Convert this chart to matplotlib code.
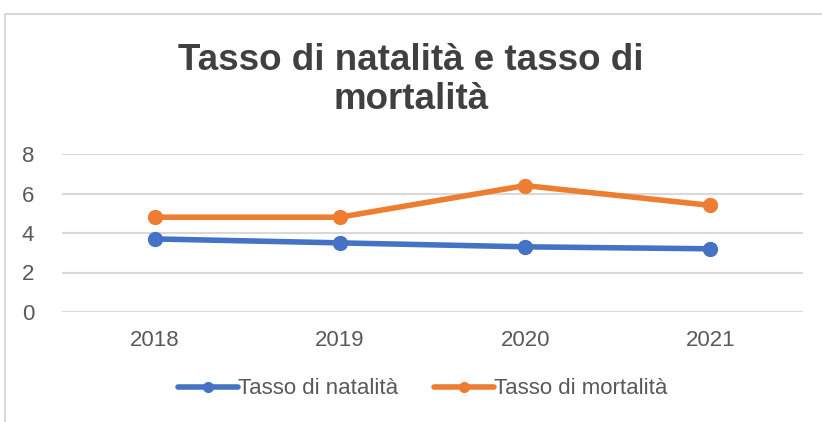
import matplotlib.pyplot as plt
from matplotlib.patches import Rectangle

plt.rcParams['font.family'] = ['Liberation Sans', 'DejaVu Sans']

anni = ['2018', '2019', '2020', '2021']
natalita = [3.7, 3.5, 3.3, 3.2]
mortalita = [4.8, 4.8, 6.4, 5.4]
y_ticks = [0, 2, 4, 6, 8]

blu = '#4472C4'
arancio = '#ED7D31'
grigio_testo = '#595959'

fig = plt.figure(figsize=(8.22, 4.22), dpi=100)
fig.patch.set_facecolor('white')

# cornice del grafico
fig.patches.append(Rectangle((5 / 822, -0.1), 1.1, 1 - 14 / 422 + 0.1,
                             transform=fig.transFigure, fill=False,
                             edgecolor='#D9D9D9', linewidth=1.5))

ax = fig.add_axes([62 / 822, 1 - 312 / 422, (803 - 62) / 822, (312 - 154) / 422])
x = list(range(len(anni)))

ax.plot(x, natalita, color=blu, linewidth=4, marker='o', markersize=10,
        solid_capstyle='round', label='Tasso di natalità', zorder=3)
ax.plot(x, mortalita, color=arancio, linewidth=4, marker='o', markersize=10,
        solid_capstyle='round', label='Tasso di mortalità', zorder=3)

ax.set_xlim(-0.5, len(anni) - 0.5)
ax.set_ylim(0, 8)
ax.set_yticks(y_ticks)
ax.set_xticks(x)
ax.set_xticklabels(anni)
ax.grid(axis='y', color='#D9D9D9', linewidth=1.5)
ax.set_axisbelow(True)
for s in ax.spines.values():
    s.set_visible(False)
ax.tick_params(length=0, labelsize=16, colors=grigio_testo)
ax.tick_params(axis='y', pad=20)
ax.tick_params(axis='x', pad=13)
for lab in ax.get_xticklabels() + ax.get_yticklabels():
    lab.set_color(grigio_testo)

fig.text(0.5, 1 - 80 / 422, 'Tasso di natalità e tasso di\nmortalità',
         ha='center', va='center', fontsize=26.5, fontweight='bold',
         color='#404040', linespacing=1.15)

leg = fig.legend(loc='center', bbox_to_anchor=(423 / 822, 1 - 389 / 422), ncol=2,
                 frameon=False, fontsize=16, handlelength=2.7,
                 handletextpad=0.0, columnspacing=1.6, markerscale=0.7)
for t in leg.get_texts():
    t.set_color(grigio_testo)

fig.savefig('out.png', dpi=100)
